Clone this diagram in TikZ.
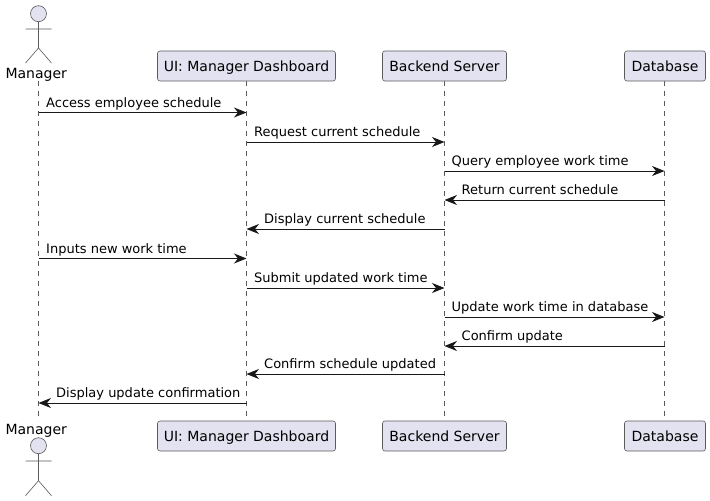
\documentclass[tikz,border=0pt]{standalone}
\usepackage{fontspec}
\setmainfont{DejaVu Sans}
\usetikzlibrary{arrows.meta}
\definecolor{puBorder}{HTML}{181818}
\definecolor{puThin}{HTML}{5A5A5A}
\definecolor{puFill}{HTML}{E2E2F0}
\tikzset{
  partbox/.style={draw=puThin,fill=puFill,line width=0.6pt,rounded corners=2.5pt,minimum height=30pt,inner sep=0pt,text height=12pt,text depth=2pt,font=\fontsize{14}{16}\selectfont,text=black},
  lifeline/.style={draw=puThin,line width=0.5pt,dash pattern=on 5pt off 5pt},
  message/.style={draw=puBorder,line width=1pt,-{Stealth[length=12.5pt,width=10pt,inset=4pt]}},
  msglabel/.style={anchor=base west,inner sep=0pt,font=\fontsize{13}{15}\selectfont,text=black},
  actorname/.style={anchor=base,inner sep=0pt,font=\fontsize{14}{16}\selectfont,text=black},
  actorline/.style={draw=puThin,line width=0.6pt},
  actorhead/.style={draw=puThin,fill=puFill,line width=0.6pt,circle,minimum size=16pt,inner sep=0pt},
}
\begin{document}
\begin{tikzpicture}[x=1pt,y=-1pt]
\useasboundingbox[fill=white] (0,0) rectangle (710,501);
% lifelines are drawn first so that the boxes sit on top
\coordinate (mgr) at (38.5,81);
\coordinate (mgrEnd) at (38.5,421);
\coordinate (uiL) at (246.5,81);
\coordinate (uiE) at (246.5,421);
\coordinate (beL) at (444.5,81);
\coordinate (beE) at (444.5,421);
\coordinate (dbL) at (664.5,81);
\coordinate (dbE) at (664.5,421);
\draw[lifeline] (mgr) -- (mgrEnd);
\draw[lifeline] (uiL) -- (uiE);
\draw[lifeline] (beL) -- (beE);
\draw[lifeline] (dbL) -- (dbE);
% participants
\node[partbox,minimum width=178pt] (uiT) at (246.5,66) {UI: Manager Dashboard};
\node[partbox,minimum width=124pt] (beT) at (444.5,66) {Backend Server};
\node[partbox,minimum width=81pt] (dbT) at (665,66) {Database};
\node[partbox,minimum width=178pt] (uiB) at (246.5,436) {UI: Manager Dashboard};
\node[partbox,minimum width=124pt] (beB) at (444.5,436) {Backend Server};
\node[partbox,minimum width=81pt] (dbB) at (665,436) {Database};
% actor top
\node[actorhead] (headT) at (38.5,13.7) {};
\coordinate (hipT) at (38.5,48);
\coordinate (armLT) at (25.5,29);
\coordinate (armRT) at (51.5,29);
\coordinate (legLT) at (25.5,63);
\coordinate (legRT) at (51.5,63);
\draw[actorline] (headT) -- (hipT) (armLT) -- (armRT) (legLT) -- (hipT) -- (legRT);
\node[actorname] (mgrT) at (36.2,78) {Manager};
% actor bottom
\node[actorhead] (headB) at (38.5,445.7) {};
\coordinate (hipB) at (38.5,480.7);
\coordinate (armLB) at (25.5,461);
\coordinate (armRB) at (51.5,461);
\coordinate (legLB) at (25.5,495.7);
\coordinate (legRB) at (51.5,495.7);
\draw[actorline] (headB) -- (hipB) (armLB) -- (armRB) (legLB) -- (hipB) -- (legRB);
\node[actorname] (mgrB) at (36.2,434) {Manager};
% rows
\foreach \n/\y in {1/112.5,2/142,3/171,4/200,5/229,6/258.5,7/288,8/317,9/346,10/374,11/403}
  \coordinate (r\n) at (0,\y);
% messages
\draw[message] (mgr|-r1) -- (uiL|-r1);
\draw[message] (uiL|-r2) -- (beL|-r2);
\draw[message] (beL|-r3) -- (dbL|-r3);
\draw[message] (dbL|-r4) -- (beL|-r4);
\draw[message] (beL|-r5) -- (uiL|-r5);
\draw[message] (mgr|-r6) -- (uiL|-r6);
\draw[message] (uiL|-r7) -- (beL|-r7);
\draw[message] (beL|-r8) -- (dbL|-r8);
\draw[message] (dbL|-r9) -- (beL|-r9);
\draw[message] (beL|-r10) -- (uiL|-r10);
\draw[message] (uiL|-r11) -- (mgr|-r11);
% labels
\node[msglabel] (l1) at (46,107) {Access employee schedule};
\node[msglabel] (l2) at (254,136.5) {Request current schedule};
\node[msglabel] (l3) at (451.5,165.5) {Query employee work time};
\node[msglabel] (l4) at (461.5,194.5) {Return current schedule};
\node[msglabel] (l5) at (264,223.5) {Display current schedule};
\node[msglabel] (l6) at (46,253) {Inputs new work time};
\node[msglabel] (l7) at (254,282.5) {Submit updated work time};
\node[msglabel] (l8) at (451.5,311.5) {Update work time in database};
\node[msglabel] (l9) at (461.5,340.5) {Confirm update};
\node[msglabel] (l10) at (264,368.5) {Confirm schedule updated};
\node[msglabel] (l11) at (56,397.5) {Display update confirmation};
\end{tikzpicture}
\end{document}
